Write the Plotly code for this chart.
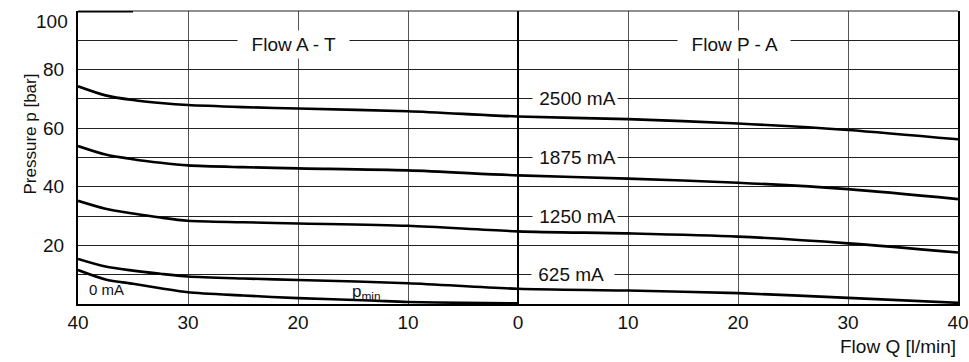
import plotly.graph_objects as go

# ---- data ----
flow_q = [-40, -37.5, -35, -32.5, -30, -25, -20, -10, 0, 10, 20, 30, 40]
p_2500 = [74.3, 71.2, 69.6, 68.6, 67.9, 67.2, 66.7, 65.8, 64.0, 63.1, 61.6, 59.4, 56.2]
p_1875 = [53.9, 51.0, 49.4, 48.2, 47.3, 46.7, 46.3, 45.6, 43.9, 42.8, 41.4, 39.2, 35.8]
p_1250 = [35.2, 32.5, 30.9, 29.5, 28.4, 27.9, 27.5, 26.7, 24.8, 24.1, 23.0, 20.7, 17.6]
p_625 = [15.4, 12.8, 11.4, 10.3, 9.4, 8.7, 8.2, 7.1, 5.2, 4.6, 3.7, 2.1, 0.4]
flow_q_min = [-40, -37.5, -35, -32.5, -30, -25, -20, -13.5, -10, -5, 0]
p_min = [11.6, 8.4, 6.9, 5.4, 4.0, 2.9, 2.0, 1.2, 0.7, 0.4, 0.2]

x_ticks = [-40, -30, -20, -10, 0, 10, 20, 30, 40]
x_ticktext = ["40", "30", "20", "10", "0", "10", "20", "30", "40"]
y_ticks = [10, 20, 30, 40, 50, 60, 70, 80, 90, 100]
y_ticktext = ["", "20", "", "40", "", "60", "", "80", "", ""]

FONT = "Liberation Sans, Arial, sans-serif"

fig = go.Figure()
for ys in [p_2500, p_1875, p_1250, p_625]:
    fig.add_trace(go.Scatter(x=flow_q, y=ys, mode="lines",
                             line=dict(color="black", width=2.6, shape="spline", smoothing=0.8),
                             hoverinfo="skip", showlegend=False))
fig.add_trace(go.Scatter(x=flow_q_min, y=p_min, mode="lines",
                         line=dict(color="black", width=2.6, shape="spline", smoothing=0.8),
                         hoverinfo="skip", showlegend=False))

fig.update_layout(
    width=969, height=362,
    margin=dict(l=78, r=11, t=11, b=58, autoexpand=False),
    paper_bgcolor="white", plot_bgcolor="white",
    font=dict(family=FONT, size=19, color="#111"),
    showlegend=False,
)
fig.update_xaxes(range=[-40, 40], tickvals=x_ticks, ticktext=x_ticktext,
                 showgrid=True, gridcolor="#555", gridwidth=1,
                 zeroline=True, zerolinecolor="black", zerolinewidth=2,
                 showline=True, linecolor="black", linewidth=2, automargin=False,
                 ticks="", ticklabelstandoff=0, tickfont=dict(size=19))
fig.update_yaxes(range=[0, 100], tickvals=y_ticks, ticktext=y_ticktext,
                 showgrid=True, gridcolor="#222", gridwidth=1,
                 zeroline=False, automargin=False,
                 showline=True, linecolor="black", linewidth=2, mirror=True,
                 ticks="", ticklabelstandoff=8, tickfont=dict(size=19))

# frame: top border and small thick segment at top-left
fig.add_shape(type="line", xref="paper", yref="paper", x0=0, x1=1, y0=1, y1=1,
              line=dict(color="#222", width=1.2))
fig.add_shape(type="line", xref="x", yref="y", x0=-40, x1=-35, y0=100, y1=100,
              line=dict(color="black", width=3))

ann = []
def lab(text, x, y, size=19, pad=1):
    ann.append(dict(text=text, x=x, y=y, xref="x", yref="y", showarrow=False,
                    bgcolor="white", borderpad=pad, font=dict(size=size, family=FONT, color="#111")))

lab(" 2500 mA", 5.2, 70)
lab(" 1875 mA", 5.2, 50)
lab(" 1250 mA", 5.2, 30)
lab(" 625 mA  ", 5.0, 10)
lab("  Flow A - T  ", -20.4, 88.5, pad=3)
lab("  Flow P - A  ", 19.6, 88.5, pad=3)
ann.append(dict(text="0 mA", x=-37.4, y=5.1, xref="x", yref="y", showarrow=False,
                font=dict(size=15, family=FONT, color="#111")))
ann.append(dict(text="p<sub>min</sub>", x=-13.8, y=3.9, xref="x", yref="y", showarrow=False,
                font=dict(size=17, family=FONT, color="#111")))
ann.append(dict(text="100", x=-0.009, y=96.4, xref="paper", yref="y", xanchor="right",
                showarrow=False, font=dict(size=19, family=FONT, color="#111")))
ann.append(dict(text="Pressure p [bar]", x=(18 - 78) / 880, y=(303.5 - 71) / 293,
                xref="paper", yref="paper",
                showarrow=False, textangle=-90, font=dict(size=17, family=FONT, color="#111")))
ann.append(dict(text="Flow Q [l/min]", x=1, y=-0.145, xref="paper", yref="paper",
                xanchor="right", yanchor="middle", showarrow=False,
                font=dict(size=19, family=FONT, color="#111")))
fig.update_layout(annotations=ann)

fig.write_html("out.html", config={"displayModeBar": False},
               post_script="document.body.style.margin='0';document.body.style.overflow='hidden';")
